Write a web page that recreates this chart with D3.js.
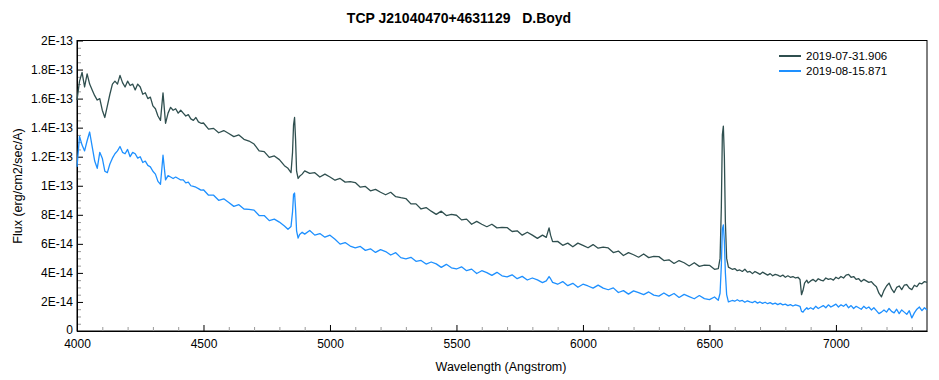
<!DOCTYPE html>
<html><head><meta charset="utf-8">
<script src="https://cdn.jsdelivr.net/npm/d3@7/dist/d3.min.js"></script>
<style>
body{margin:0;background:#fff}
svg{display:block;font-family:"Liberation Sans",Arial,sans-serif}
</style>
</head><body><svg id="c" width="939" height="380"></svg>
<script>
// Wavelength in Angstrom (shared by both spectra)
const wavelength = [
4000,4010,4020,4030,4040,4050,4060,4070,4080,4090,
4100,4110,4120,4130,4140,4150,4160,4170,4180,4190,
4200,4210,4220,4230,4240,4250,4260,4270,4280,4290,
4300,4310,4320,4330,4340,4350,4360,4370,4380,4390,
4400,4410,4420,4430,4440,4450,4460,4470,4480,4490,
4500,4520,4540,4560,4580,4600,4620,4640,4660,4680,4700,4720,4740,4760,4780,4800,4820,
4834,4846,4852,4856,4860,4864,4868,4874,4880,4890,
4900,4920,4940,4960,4980,5000,5020,5040,5060,5080,
5100,5120,5140,5160,5180,5200,5220,5240,5260,5280,
5300,5320,5340,5360,5380,5400,5420,5440,5460,5480,
5500,5520,5540,5560,5580,5600,5620,5640,5660,5680,
5700,5720,5740,5760,5780,5800,5820,5840,
5855,5866,5872,5880,
5900,5920,5940,5960,5980,6000,6020,6040,6060,6080,
6100,6120,6140,6160,6180,6200,6220,6240,6260,6280,
6300,6320,6340,6360,6380,6400,6420,6440,6460,6480,
6500,6520,
6535,6542,6547,6551,6555,6559,6563,6568,6575,6590,
6600,6610,6620,6630,6640,6650,6660,6670,6680,6690,
6700,6710,6720,6730,6740,6750,6760,6770,6780,6790,
6800,6810,6820,6830,6840,6850,
6858,6864,6870,6876,6885,6890,
6900,6910,6920,6930,6940,6950,6960,6970,6980,6990,
7000,7010,7020,7030,7040,7050,7060,7070,7080,7090,
7100,7110,7120,7130,7140,7150,7160,7170,7180,7190,
7200,7210,7220,7230,7240,7250,7260,7270,7280,7290,
7300,7310,7320,7330,7340,7350,7360
];
// Flux in units of 1E-14 erg/cm2/sec/A
const fluxJul31 = [
15.9,17.2,17.8,16.8,17.7,17.0,16.6,16.2,15.9,16.0,
15.2,14.7,15.5,16.3,17.0,17.2,17.0,17.6,17.1,16.8,
17.2,16.9,17.0,16.6,17.0,16.8,16.3,16.4,16.0,16.1,
15.5,15.3,14.8,14.5,16.4,14.3,15.0,15.4,15.2,15.3,
15.0,15.2,15.0,14.8,14.9,14.6,14.5,14.7,14.4,14.3,
14.32,13.9,13.95,13.65,13.8,13.6,13.38,13.5,13.2,13.08,12.87,12.4,12.35,11.95,12.05,11.8,11.38,
11.2,10.9,12.3,14.2,14.7,13.2,11.0,10.5,10.65,10.8,
11.02,10.85,10.9,10.6,10.8,10.6,10.38,10.5,10.25,10.28,
10.22,9.9,9.95,9.65,9.75,9.55,9.38,9.55,9.25,9.18,
9.12,8.75,8.75,8.4,8.5,8.25,8.03,8.25,7.95,8.03,
7.97,7.65,7.7,7.35,7.55,7.35,7.18,7.35,7.1,7.13,
7.12,6.85,6.9,6.6,6.8,6.6,6.38,6.6,
6.45,7.1,6.6,6.15,
6.17,5.9,6.05,5.8,6.05,5.9,5.73,5.95,5.7,5.78,
5.72,5.4,5.5,5.2,5.4,5.25,5.08,5.3,5.05,5.13,
5.12,4.85,4.9,4.65,4.85,4.7,4.48,4.7,4.45,4.53,
4.52,4.25,
4.3,5.0,8.5,13.5,14.1,12.0,7.5,5.0,4.4,4.25,
4.3,4.15,4.2,4.1,4.25,4.05,4.1,3.95,4.1,4.0,
3.9,4.05,3.95,3.85,3.95,3.8,3.9,3.85,3.75,3.85,
3.7,3.8,3.7,3.75,3.65,3.7,
3.55,2.5,2.8,3.3,3.5,3.3,
3.45,3.55,3.4,3.6,3.5,3.45,3.65,3.55,3.6,3.5,
3.7,3.6,3.75,3.65,3.85,3.9,3.7,3.75,3.55,3.6,
3.4,3.55,3.45,3.35,3.4,3.2,3.05,2.6,2.35,2.8,
3.1,3.3,2.9,2.65,3.0,3.1,2.85,3.15,3.2,2.95,
2.85,3.15,3.05,3.3,3.25,3.4,3.35
];
const fluxAug15 = [
11.3,13.4,12.8,12.4,13.1,13.7,12.7,11.7,11.2,12.3,
11.9,11.0,10.9,11.5,11.9,12.2,12.4,12.7,12.3,12.2,
12.5,12.0,12.3,12.2,11.9,12.0,11.6,11.7,11.4,11.3,
11.0,10.8,10.3,10.1,12.1,10.4,10.7,10.6,10.5,10.6,
10.5,10.4,10.4,10.2,10.25,10.0,9.95,9.9,9.8,9.7,
9.72,9.35,9.35,9.0,9.1,8.85,8.58,8.7,8.4,8.38,8.32,7.95,7.95,7.6,7.7,7.5,7.23,
7.0,7.2,8.2,9.4,9.5,8.4,6.9,6.4,6.65,6.8,
6.67,6.92,6.6,6.71,6.46,6.6,6.32,5.98,6.09,5.85,
5.72,5.82,5.55,5.66,5.41,5.6,5.47,5.23,5.39,5.05,
4.97,5.07,4.8,4.86,4.61,4.75,4.62,4.38,4.59,4.35,
4.27,4.42,4.15,4.26,3.96,4.15,4.02,3.83,4.04,3.8,
3.72,3.87,3.6,3.76,3.51,3.65,3.52,3.33,
3.45,3.75,3.6,3.35,
3.22,3.4,3.12,3.28,3.01,3.22,3.1,2.95,3.16,2.95,
2.84,2.97,2.65,2.78,2.54,2.76,2.64,2.5,2.69,2.47,
2.4,2.62,2.4,2.58,2.31,2.52,2.37,2.22,2.44,2.23,
2.16,2.34,
2.12,2.6,4.5,7.0,7.3,6.2,4.0,2.5,2.0,2.1,
2.05,2.15,2.05,2.1,1.98,2.08,2.0,1.95,2.05,1.92,
2.0,1.9,1.98,1.88,1.95,1.85,1.92,1.82,1.9,1.8,
1.85,1.75,1.82,1.72,1.8,1.75,
1.7,1.35,1.3,1.45,1.6,1.5,
1.6,1.5,1.7,1.55,1.65,1.75,1.6,1.8,1.65,1.75,
1.85,1.65,1.8,1.7,1.85,1.6,1.75,1.55,1.7,1.6,
1.5,1.7,1.55,1.65,1.45,1.6,1.4,1.2,1.3,1.45,
1.3,1.55,1.35,1.25,1.5,1.2,1.45,1.3,1.15,1.4,
0.9,1.25,1.5,1.65,1.4,1.6,1.45
];
const seriesNames = ["2019-07-31.906", "2019-08-15.871"];
const seriesColors = ["#2f4f4f", "#1e90ff"];
const xTickValues = [4000, 4500, 5000, 5500, 6000, 6500, 7000];
const xTickLabels = ["4000", "4500", "5000", "5500", "6000", "6500", "7000"];
const yTickValues = [0, 2, 4, 6, 8, 10, 12, 14, 16, 18, 20];
const yTickLabels = ["0", "2E-14", "4E-14", "6E-14", "8E-14", "1E-13", "1.2E-13", "1.4E-13", "1.6E-13", "1.8E-13", "2E-13"];
const titleText = "TCP J21040470+4631129   D.Boyd";
const xTitle = "Wavelength (Angstrom)";
const yTitle = "Flux (erg/cm2/sec/A)";

const svg = d3.select("#c");
const L = 77, R = 927, T = 40.5, B = 331;
const x = d3.scaleLinear().domain([4000, 7360]).range([L, R]);
const y = d3.scaleLinear().domain([0, 20]).range([B, T]);

// frame
svg.append("rect").attr("x", L).attr("y", T).attr("width", R - L).attr("height", B - T)
  .attr("fill", "none").attr("stroke", "#000").attr("stroke-width", 1);

// minor ticks
const xMinor = d3.range(4100, 7360, 100).filter(v => v % 500 !== 0);
const yMinor = d3.range(0.5, 20, 0.5).filter(v => v % 2 !== 0);
svg.append("g").attr("transform", `translate(0,${B})`)
  .call(d3.axisBottom(x).tickValues(xMinor).tickSize(-4).tickFormat(""))
  .call(g => g.select(".domain").remove())
  .call(g => g.selectAll("line").attr("stroke", "#999"));
svg.append("g").attr("transform", `translate(${L},0)`)
  .call(d3.axisLeft(y).tickValues(yMinor).tickSize(-4).tickFormat(""))
  .call(g => g.select(".domain").remove())
  .call(g => g.selectAll("line").attr("stroke", "#999"));

// major axes
const xAxis = svg.append("g").attr("transform", `translate(0,${B})`)
  .call(d3.axisBottom(x).tickValues(xTickValues).tickSize(-6).tickPadding(8)
    .tickFormat((d, i) => xTickLabels[i]).tickSizeOuter(0));
const yAxis = svg.append("g").attr("transform", `translate(${L},0)`)
  .call(d3.axisLeft(y).tickValues(yTickValues).tickSize(-6).tickPadding(4)
    .tickFormat((d, i) => yTickLabels[i]).tickSizeOuter(0));
[xAxis, yAxis].forEach(g => {
  g.selectAll("text").attr("fill", "#000").style("font-size", "12px")
   .style("font-family", '"Liberation Sans",Arial,sans-serif');
  g.select(".domain").attr("stroke", "#000");
  g.selectAll(".tick line").attr("stroke", "#000");
});
// nudge the "0" label up a touch so it clears the first x label
yAxis.selectAll(".tick text").filter((d, i) => i === 0).attr("y", -1.5);

// lines
const series = [fluxJul31, fluxAug15];
const line = d3.line().x((d, i) => x(wavelength[i])).y(d => y(d));
series.forEach((s, k) => {
  svg.append("path").datum(s).attr("d", line).attr("fill", "none")
    .attr("stroke", seriesColors[k]).attr("stroke-width", 1.3)
    .attr("stroke-linejoin", "round");
});

// titles
svg.append("text").attr("x", 459).attr("y", 23).attr("text-anchor", "middle")
  .style("font-weight", "bold").style("font-size", "14px").style("white-space", "pre")
  .text(titleText);
svg.append("text").attr("x", 501).attr("y", 371).attr("text-anchor", "middle")
  .style("font-size", "12.5px").text(xTitle);
svg.append("text").attr("transform", "translate(22,186) rotate(-90)").attr("text-anchor", "middle")
  .style("font-size", "12.5px").text(yTitle);

// legend
const leg = svg.append("g");
seriesNames.forEach((n, k) => {
  const yy = 56 + k * 15;
  leg.append("line").attr("x1", 779).attr("x2", 801).attr("y1", yy).attr("y2", yy)
    .attr("stroke", seriesColors[k]).attr("stroke-width", 2);
  leg.append("text").attr("x", 806).attr("y", yy + 4).style("font-size", "11.5px").text(n);
});
</script>
</body></html>
